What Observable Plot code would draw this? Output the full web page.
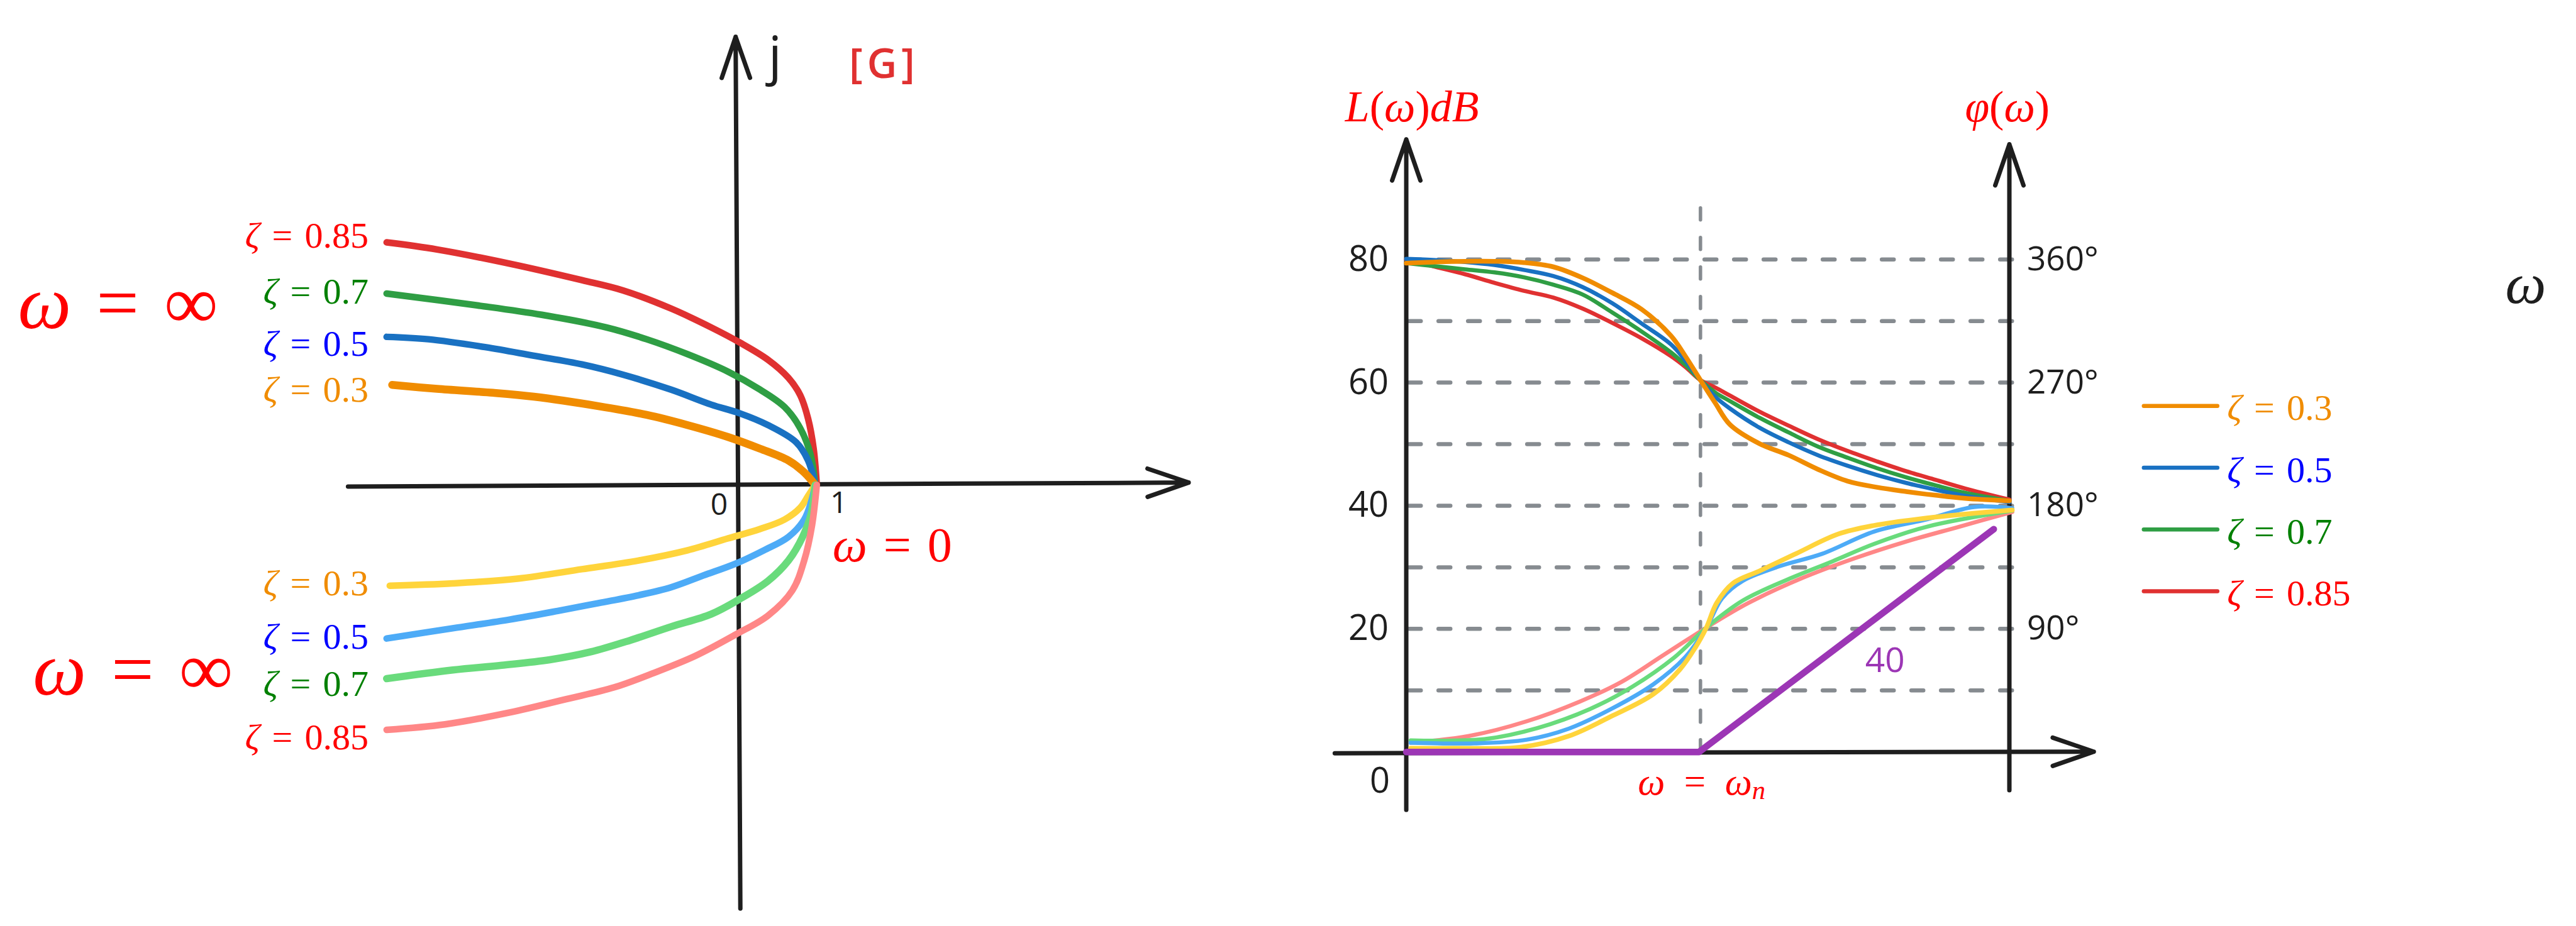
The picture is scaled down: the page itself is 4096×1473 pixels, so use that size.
<!DOCTYPE html>
<html>
<head>
<meta charset="utf-8">
<script src="https://cdn.jsdelivr.net/npm/d3@7"></script>
<script src="https://cdn.jsdelivr.net/npm/@observablehq/plot@0.6"></script>
<style>
  html, body { margin: 0; padding: 0; background: #ffffff; }
  #chart { position: relative; width: 4096px; height: 1473px; overflow: hidden; background: #ffffff; }
  #nyquist { position: absolute; left: 0; top: 0; }
  #bode { position: absolute; left: 2015px; top: 0; }
  svg { overflow: visible; }
</style>
</head>
<body>
<div id="chart"><div id="nyquist"></div><div id="bode"></div></div>
<script>
// ======================= DATA =======================
// Damping ratios
const zetaValues = ["0.3", "0.5", "0.7", "0.85"];

// ---- Nyquist plot [G] : points [Re, Im] ----
const nyqUpper085 = [[-4.46,3.08],[-3.82,2.99],[-2.90,2.81],[-1.98,2.60],[-1.46,2.47],[-0.85,2.24],[-0.34,2.00],[0.02,1.81],[0.38,1.59],[0.64,1.36],[0.79,1.14],[0.89,0.84],[0.96,0.46],[1.00,0]];
const nyqUpper07  = [[-4.46,2.43],[-3.31,2.28],[-2.49,2.16],[-1.67,2.00],[-1.16,1.85],[-0.64,1.66],[-0.13,1.44],[0.28,1.21],[0.59,0.99],[0.79,0.72],[0.92,0.39],[0.98,0]];
const nyqUpper05  = [[-4.46,1.88],[-3.93,1.85],[-3.21,1.75],[-2.59,1.64],[-1.98,1.53],[-1.46,1.40],[-0.85,1.21],[-0.34,1.02],[0.02,0.91],[0.38,0.76],[0.74,0.54],[0.89,0.31],[0.98,0]];
const nyqUpper03  = [[-4.39,1.27],[-3.82,1.22],[-3.11,1.17],[-2.59,1.12],[-1.77,1.00],[-1.16,0.89],[-0.64,0.76],[-0.13,0.61],[0.28,0.46],[0.64,0.31],[0.84,0.16],[0.98,0]];
const nyqLower03  = [[-4.42,-1.28],[-3.62,-1.25],[-2.80,-1.19],[-1.98,-1.07],[-1.26,-0.96],[-0.64,-0.83],[-0.13,-0.68],[0.28,-0.56],[0.59,-0.44],[0.79,-0.29],[0.89,-0.14],[0.98,0]];
const nyqLower05  = [[-4.46,-1.95],[-3.62,-1.82],[-2.90,-1.71],[-2.29,-1.60],[-1.77,-1.50],[-1.26,-1.40],[-0.85,-1.30],[-0.44,-1.15],[-0.03,-1.00],[0.33,-0.83],[0.64,-0.66],[0.84,-0.44],[0.93,-0.21],[0.98,0]];
const nyqLower07  = [[-4.46,-2.46],[-3.62,-2.35],[-3.00,-2.29],[-2.39,-2.22],[-1.87,-2.12],[-1.36,-1.97],[-0.85,-1.80],[-0.34,-1.64],[0.02,-1.45],[0.38,-1.22],[0.64,-0.96],[0.82,-0.66],[0.93,-0.36],[0.98,0]];
const nyqLower085 = [[-4.46,-3.11],[-3.72,-3.04],[-2.90,-2.89],[-2.18,-2.72],[-1.57,-2.57],[-1.05,-2.38],[-0.54,-2.17],[-0.03,-1.90],[0.38,-1.66],[0.69,-1.34],[0.84,-0.96],[0.94,-0.51],[1.00,0]];
// Nyquist axes extents (Re, Im)
const nyqAxes = [
  {x1: -4.95, y1: -0.02, x2: 5.72, y2: 0.03},
  {x1: 0.03, y1: -5.38, x2: -0.03, y2: 5.69}
];
const nyqTickValues = ["0", "1"];

// ---- Bode plot : frequency u (0 = L axis, 1 = ωn), magnitude dB ----
const bodeU = [0,0.1,0.2,0.3,0.4,0.5,0.6,0.7,0.8,0.9,0.95,1.0,1.05,1.1,1.2,1.3,1.4,1.5,1.6,1.7,1.8,1.9,2.05];
const bodeUpper03  = [79.4,79.6,79.7,79.7,79.5,78.8,77.0,74.6,71.9,67.6,64.2,60.4,56.7,53.2,50.1,48.2,45.9,44.0,43.0,42.3,41.7,41.2,40.8];
const bodeUpper05  = [80.1,79.9,79.6,79.1,78.3,77.3,75.5,72.9,69.6,66.2,63.5,60.4,57.7,55.8,52.7,50.3,48.2,46.5,45.0,43.7,42.6,41.6,40.6];
const bodeUpper07  = [79.4,78.9,78.4,77.9,77.1,75.9,74.3,71.4,68.3,64.9,62.8,60.4,58.4,57.0,54.3,51.9,49.6,47.8,46.1,44.6,43.3,42.1,40.8];
const bodeUpper085 = [80.0,78.8,77.6,76.2,74.9,73.8,72.0,69.7,67.2,64.3,62.5,60.4,59.2,57.9,55.3,53.0,50.8,48.9,47.2,45.6,44.2,42.8,41.0];
const bodeLower03  = [[0.015,0.6],[0.16,0.6],[0.39,0.8],[0.553,2.6],[0.697,5.8],[0.84,9.4],[0.93,13.4],[0.983,17.0],[1.02,20.2],[1.055,24.2],[1.11,27.4],[1.2,29.4],[1.324,32.2],[1.468,35.4],[1.59,36.8],[1.77,38.0],[2.06,39.3]];
const bodeLower05  = [[0.015,1.5],[0.23,1.4],[0.41,2.0],[0.553,3.8],[0.697,7.0],[0.84,11.0],[0.948,15.4],[1.02,20.2],[1.074,25.0],[1.144,27.8],[1.27,30.2],[1.414,32.2],[1.59,35.8],[1.77,37.8],[1.93,39.8],[2.06,39.6]];
const bodeLower07  = [[0.015,1.9],[0.266,2.1],[0.446,3.9],[0.625,7.0],[0.768,10.6],[0.912,15.4],[1.02,20.2],[1.144,24.6],[1.305,28.2],[1.45,31.0],[1.59,33.8],[1.77,36.6],[2.06,39.2]];
const bodeLower085 = [[0.015,1.5],[0.213,2.6],[0.41,5.0],[0.59,8.2],[0.732,11.4],[0.876,15.8],[1.02,20.2],[1.163,24.2],[1.343,28.2],[1.52,31.4],[1.70,34.2],[1.88,36.6],[2.06,39.0]];
const asymptote40 = [[0,0],[0.995,0],[1.997,36.2]];
const gridDb = [10,20,30,40,50,60,70,80];
const dbTicks = [20,40,60,80];
const phaseTicks = ["90°","180°","270°","360°"];
const degPerDb = 4.5;
const bodeAxes = [
  {x1: 0, y1: -9.4, x2: 0, y2: 99.5},
  {x1: 2.05, y1: -6.2, x2: 2.05, y2: 98.7},
  {x1: -0.243, y1: -0.2, x2: 2.337, y2: 0.05}
];
const omegaNDashTop = 90.5;

// ======================= STYLE =======================
const SERIF = '"Liberation Serif", "DejaVu Serif", serif';
const HAND = '"Open Sans", "Noto Sans", sans-serif';
const INK = "#1e1e1e";
const GRAY = "#868b90";
const RED_TXT = "#ff0000";
const zetaColors = {"0.3": "#f08c00", "0.5": "#1971c2", "0.7": "#2f9e44", "0.85": "#e03131"};
const zetaLight  = {"0.3": "#ffd43b", "0.5": "#4dabf7", "0.7": "#69db7c", "0.85": "#ff8787"};
const zetaText   = {"0.3": "#f08c00", "0.5": "#0000ff", "0.7": "#008000", "0.85": "#ff0000"};

const ctx = document.createElement("canvas").getContext("2d");
function textWidth(str, size, italic) {
  ctx.font = `${italic ? "italic " : ""}${size}px ${SERIF}`;
  return ctx.measureText(str).width;
}
// math-like label made of italic / upright parts
function mathLabel(datum, parts, {size, fill, anchor = "start", dx = 0, dy = 0}) {
  const sizes = parts.map(p => p.sub ? size * 0.7 : size);
  const widths = parts.map((p, i) => textWidth(p.t, sizes[i], p.it));
  const total = d3.sum(widths);
  let off = anchor === "end" ? -total : anchor === "middle" ? -total / 2 : 0;
  return parts.map((p, i) => {
    const m = Plot.text([datum], {
      x: d => d[0], y: d => d[1], text: () => p.t,
      textAnchor: "start", lineAnchor: "middle",
      dx: dx + off, dy: dy + (p.sub ? size * 0.22 : 0),
      fontSize: sizes[i], fontStyle: p.it ? "italic" : "normal",
      fontFamily: SERIF, fill
    });
    off += widths[i];
    return m;
  });
}
const zetaParts = z => [{t: "ζ", it: true}, {t: "\u2004=\u2004" + z}];

// ======================= NYQUIST =======================
const nyqSeries = [
  {zeta: "0.85", pts: nyqUpper085, stroke: zetaColors["0.85"], w: 10.5, dy: -10},
  {zeta: "0.7",  pts: nyqUpper07,  stroke: zetaColors["0.7"],  w: 10.5, dy: -3},
  {zeta: "0.5",  pts: nyqUpper05,  stroke: zetaColors["0.5"],  w: 10.5, dy: 12},
  {zeta: "0.3",  pts: nyqUpper03,  stroke: zetaColors["0.3"],  w: 12.5, dy: 8},
  {zeta: "0.3",  pts: nyqLower03,  stroke: zetaLight["0.3"],   w: 10.5, dy: -3},
  {zeta: "0.5",  pts: nyqLower05,  stroke: zetaLight["0.5"],   w: 10.5, dy: -2},
  {zeta: "0.7",  pts: nyqLower07,  stroke: zetaLight["0.7"],   w: 11.5, dy: 9},
  {zeta: "0.85", pts: nyqLower085, stroke: zetaLight["0.85"],  w: 10.5, dy: 12}
];
const nyqLabelRe = -4.69;

const nyqMarks = [
  Plot.arrow(nyqAxes, {x1: "x1", y1: "y1", x2: "x2", y2: "y2", stroke: INK, strokeWidth: 7,
    headLength: 14.8, headAngle: 38, strokeLinecap: "round", strokeLinejoin: "round"})
];
for (const s of nyqSeries) {
  nyqMarks.push(Plot.line(s.pts, {x: d => d[0], y: d => d[1], stroke: s.stroke, strokeWidth: s.w,
    curve: "catmull-rom", strokeLinecap: "round", strokeLinejoin: "round"}));
}
for (const s of nyqSeries) {
  nyqMarks.push(...mathLabel([nyqLabelRe, s.pts[0][1]], zetaParts(s.zeta),
    {size: 58, fill: zetaText[s.zeta], anchor: "end", dy: s.dy}));
}
nyqMarks.push(...mathLabel([-9.14, 2.30], [{t: "ω", it: true}, {t: "\u2004=\u2004∞"}], {size: 120, fill: RED_TXT}));
nyqMarks.push(...mathLabel([-8.95, -2.36], [{t: "ω", it: true}, {t: "\u2004=\u2004∞"}], {size: 120, fill: RED_TXT}));
nyqMarks.push(...mathLabel([1.20, -0.73], [{t: "ω", it: true}, {t: "\u2004=\u20040"}], {size: 78, fill: RED_TXT, dy: 5}));
// tick labels "0" and "1" on the real axis
nyqMarks.push(Plot.text(nyqTickValues.filter(d => d === "0"), {x: d => +d, y: 0, text: d => d, dx: -30, dy: 32, fontFamily: HAND, fontSize: 48, fill: INK}));
nyqMarks.push(Plot.text(nyqTickValues.filter(d => d === "1"), {x: d => +d, y: 0, text: d => d, dx: 35, dy: 29, fontFamily: HAND, fontSize: 48, fill: INK}));
nyqMarks.push(Plot.text(["j"], {x: 0.47, y: 5.43, text: d => d, fontFamily: HAND, fontSize: 84, fill: INK}));
nyqMarks.push(Plot.text(["[\u200aG\u200a]"], {x: 1.41, y: 5.34, text: d => d, fontFamily: HAND, fontSize: 66, fontWeight: 600, fill: "#e03131", textAnchor: "start"}));

const nyq = Plot.plot({
  width: 2015, height: 1473, margin: 0,
  x: {axis: null, domain: [0, 1], range: [1172.96, 1298.23]},
  y: {axis: null, domain: [0, 1], range: [770.88, 645.61]},
  style: {background: "transparent", overflow: "visible"},
  marks: nyqMarks
});
document.getElementById("nyquist").append(nyq);

// ======================= BODE =======================
const upperSets = {"0.85": bodeUpper085, "0.7": bodeUpper07, "0.5": bodeUpper05, "0.3": bodeUpper03};
const lowerSets = {"0.85": bodeLower085, "0.7": bodeLower07, "0.5": bodeLower05, "0.3": bodeLower03};
const drawOrder = ["0.85", "0.7", "0.5", "0.3"];

const bodeMarks = [
  Plot.ruleY(gridDb, {y: d => d, x1: 0.01, x2: 2.065, stroke: GRAY, strokeWidth: 6.5,
    strokeDasharray: "19 28", strokeLinecap: "round"}),
  Plot.ruleX([1], {x: d => d, y1: 0, y2: omegaNDashTop, stroke: GRAY, strokeWidth: 5.5,
    strokeDasharray: "19 28", strokeLinecap: "round"}),
  Plot.arrow(bodeAxes, {x1: "x1", y1: "y1", x2: "x2", y2: "y2", stroke: INK, strokeWidth: 7,
    headLength: 14.8, headAngle: 38, strokeLinecap: "round", strokeLinejoin: "round"})
];
for (const z of drawOrder) {
  bodeMarks.push(Plot.line(lowerSets[z], {x: d => d[0], y: d => d[1], stroke: zetaLight[z],
    strokeWidth: z === "0.3" ? 7.5 : 6.5, curve: "catmull-rom", strokeLinecap: "round", strokeLinejoin: "round"}));
}
for (const z of drawOrder) {
  bodeMarks.push(Plot.line(bodeU.map((u, i) => [u, upperSets[z][i]]), {x: d => d[0], y: d => d[1], stroke: zetaColors[z],
    strokeWidth: z === "0.3" ? 7.5 : 6.5, curve: "catmull-rom", strokeLinecap: "round", strokeLinejoin: "round"}));
}
bodeMarks.push(Plot.line(asymptote40, {x: d => d[0], y: d => d[1], stroke: "#9c36b5", strokeWidth: 10.5,
  strokeLinecap: "round", strokeLinejoin: "round"}));
bodeMarks.push(Plot.text(["40"], {x: 1.627, y: 14.8, text: d => d, fontFamily: HAND, fontSize: 55, fill: "#9c36b5"}));
// magnitude ticks
bodeMarks.push(Plot.text(dbTicks, {x: 0, y: d => d, text: d => String(d), textAnchor: "end", dx: -28,
  fontFamily: HAND, fontSize: 56, fill: INK}));
bodeMarks.push(Plot.text([0], {x: 0, y: d => d, text: d => String(d), textAnchor: "middle", dx: -42, dy: 47,
  fontFamily: HAND, fontSize: 56, fill: INK}));
// phase ticks
bodeMarks.push(Plot.text(phaseTicks, {x: 2.05, y: d => parseFloat(d) / degPerDb, text: d => d, textAnchor: "start", dx: 28,
  fontFamily: HAND, fontSize: 53, fill: INK}));
// axis titles
bodeMarks.push(...mathLabel([-0.208, 104.7], [{t: "L", it: true}, {t: "("}, {t: "ω", it: true}, {t: ")"}, {t: "dB", it: true}], {size: 70, fill: RED_TXT}));
bodeMarks.push(...mathLabel([1.899, 104.7], [{t: "φ", it: true}, {t: "("}, {t: "ω", it: true}, {t: ")"}], {size: 70, fill: RED_TXT}));
bodeMarks.push(...mathLabel([0.787, -4.9], [{t: "ω", it: true}, {t: "\u2002=\u2002"}, {t: "ω", it: true}, {t: "n", it: true, sub: true}], {size: 61, fill: RED_TXT}));
// legend
zetaValues.forEach((z, i) => {
  const yv = 56.2 - 10.03 * i;
  bodeMarks.push(Plot.link([[2.507, yv, 2.757, yv]], {x1: d => d[0], y1: d => d[1], x2: d => d[2], y2: d => d[3],
    stroke: zetaColors[z], strokeWidth: 6.5, strokeLinecap: "round"}));
  bodeMarks.push(...mathLabel([2.79, yv - 0.4], zetaParts(z), {size: 58, fill: zetaText[z]}));
});
// frequency symbol
bodeMarks.push(Plot.text(["ω"], {x: 3.805, y: 75.9, text: d => d, fontFamily: SERIF, fontStyle: "italic", fontSize: 92, fill: INK}));

const bode = Plot.plot({
  width: 2081, height: 1473, margin: 0,
  x: {axis: null, domain: [0, 1], range: [220.55, 688.34]},
  y: {axis: null, domain: [0, 80], range: [1195.74, 412.25]},
  style: {background: "transparent", overflow: "visible"},
  marks: bodeMarks
});
document.getElementById("bode").append(bode);
</script>
</body>
</html>
